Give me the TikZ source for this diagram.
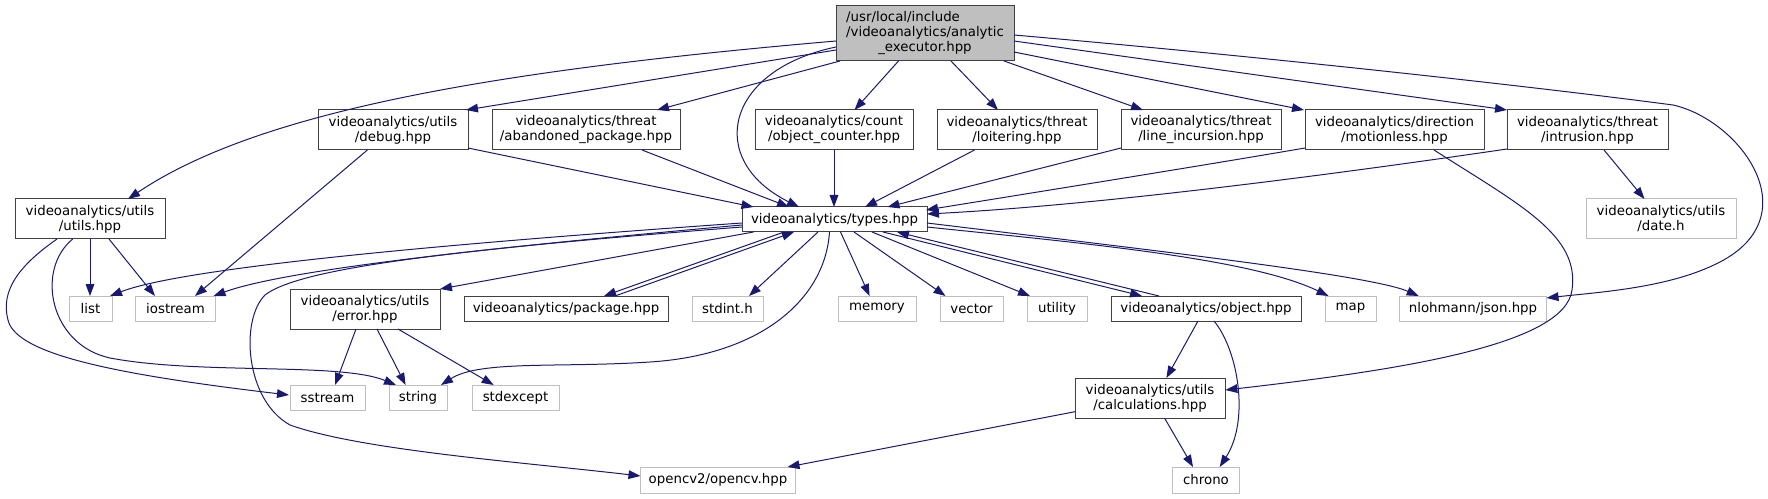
\documentclass[tikz,border=0pt]{standalone}
\usepackage{fontspec}
\setmainfont{DejaVu Sans}
\usetikzlibrary{arrows.meta,calc}
\definecolor{edgeblue}{RGB}{25,25,112}
\definecolor{docgray}{RGB}{64,64,64}
\definecolor{extgray}{RGB}{191,191,191}

\begin{document}
\begin{tikzpicture}[
  x=0.75pt, y=-0.75pt,
  box/.style={draw, inner sep=0pt, align=center, line width=0.75pt,
    font=\fontsize{10}{11.25}\selectfont, minimum height=18.75pt},
  two/.style={minimum height=30pt},
  doc/.style={box, draw=docgray},
  ext/.style={box, draw=extgray},
  root/.style={box, draw=docgray, fill=extgray, minimum height=41.25pt},
  boxw/.style={minimum width=#1*0.75pt},
  inc/.style={draw=edgeblue, line width=0.75pt, -{Triangle[length=9pt,width=6.5pt]}}
]
\useasboundingbox (0,0) rectangle (1768,499);

% the file itself
\node[root, boxw=178] (exec) at (925,33.5) {\begin{tabular}{@{}l@{}}/usr/local/include\\/videoanalytics/analytic\\\multicolumn{1}{@{}c@{}}{\_executor.hpp}\end{tabular}};

% direct includes
\node[doc, two, boxw=150] (debug) at (393,130) {videoanalytics/utils\\/debug.hpp};
\node[doc, two, boxw=188] (abandoned) at (586,130) {videoanalytics/threat\\/abandoned\_package.hpp};
\node[doc, two, boxw=158] (counter) at (834,130) {videoanalytics/count\\/object\_counter.hpp};
\node[doc, two, boxw=160] (loitering) at (1017,130) {videoanalytics/threat\\/loitering.hpp};
\node[doc, two, boxw=160] (incursion) at (1201,130) {videoanalytics/threat\\/line\_incursion.hpp};
\node[doc, two, boxw=179] (motionless) at (1394.5,130) {videoanalytics/direction\\/motionless.hpp};
\node[doc, two, boxw=161] (intrusion) at (1587.5,130) {videoanalytics/threat\\/intrusion.hpp};
\node[doc, two, boxw=150] (utils) at (90,219) {videoanalytics/utils\\/utils.hpp};
\node[doc, boxw=185] (types) at (834.5,219.5) {videoanalytics/types.hpp};
\node[ext, two, boxw=150] (date) at (1661,219) {videoanalytics/utils\\/date.h};

% third row
\node[ext, boxw=43] (list) at (90.5,308.5) {list};
\node[ext, boxw=80] (iostream) at (175.5,308.5) {iostream};
\node[doc, two, boxw=150] (error) at (365,309) {videoanalytics/utils\\/error.hpp};
\node[doc, boxw=204] (package) at (566,308.5) {videoanalytics/package.hpp};
\node[ext, boxw=71] (stdint) at (727.5,308.5) {stdint.h};
\node[ext, boxw=78] (memory) at (877,308.5) {memory};
\node[ext, boxw=63] (vector) at (971.5,308.5) {vector};
\node[ext, boxw=60] (utility) at (1057,308.5) {utility};
\node[doc, boxw=190] (object) at (1206,308.5) {videoanalytics/object.hpp};
\node[ext, boxw=51] (map) at (1350.5,308.5) {map};
\node[ext, boxw=147] (json) at (1473,308.5) {nlohmann/json.hpp};

% bottom rows
\node[ext, boxw=75] (sstream) at (327.5,397.5) {sstream};
\node[ext, boxw=58] (string) at (418,397.5) {string};
\node[ext, boxw=87] (stdexcept) at (515.5,397.5) {stdexcept};
\node[doc, two, boxw=150] (calc) at (1150,398) {videoanalytics/utils\\/calculations.hpp};
\node[ext, boxw=155, minimum height=19.5pt] (opencv) at (718,480) {opencv2/opencv.hpp};
\node[ext, boxw=67, minimum height=19.5pt] (chrono) at (1206,480) {chrono};

% edges from the file
\draw[inc] ($(exec)+(-89,7.5)$) .. controls (500,70) and (260,110) .. ($(utils)+(38,-20)$);
\draw[inc] ($(exec)+(-89,16.5)$) -- ($(debug)+(73,-20)$);
\draw[inc] ($(exec)+(-85,27.5)$) -- ($(abandoned)+(71,-20)$);
\draw[inc] ($(exec)+(-89,13.5)$) .. controls (725,70) and (705,160) .. ($(types)+(-35.5,-12.5)$);
\draw[inc] ($(exec)+(-26.5,27.5)$) -- ($(counter)+(20.5,-20)$);
\draw[inc] ($(exec)+(26,27.5)$) -- ($(loitering)+(-19,-20)$);
\draw[inc] ($(exec)+(79,27.5)$) -- ($(incursion)+(-58,-20)$);
\draw[inc] ($(exec)+(89,18.5)$) -- ($(motionless)+(-90.5,-20)$);
\draw[inc] ($(exec)+(89,7.5)$) -- ($(intrusion)+(-80.5,-20)$);
\draw[inc] ($(exec)+(89,1.5)$) .. controls (1300,60) and (1560,90) .. (1673,105)
  .. controls (1740,120) and (1810,215) .. (1720,262)
  .. controls (1670,288) and (1600,292) .. ($(json)+(73.5,-10.5)$);

% second row
\draw[inc] ($(debug)+(75,18)$) -- ($(types)+(-81,-12.5)$);
\draw[inc] ($(debug)+(-25.6,20)$) -- ($(iostream)+(19.5,-12.5)$);
\draw[inc] ($(abandoned)+(56,20)$) -- ($(types)+(-45.5,-12.5)$);
\draw[inc] ($(counter)+(0,20)$) -- ($(types)+(-0.5,-12.5)$);
\draw[inc] ($(loitering)+(-42.5,20)$) -- ($(types)+(30.5,-12.5)$);
\draw[inc] ($(incursion)+(-80,18)$) -- ($(types)+(53,-12.5)$);
\draw[inc] ($(motionless)+(-89.5,18)$) .. controls (1200,166) and (1050,190) .. ($(types)+(91.5,-9.5)$);
\draw[inc] ($(intrusion)+(-80.5,19)$) .. controls (1330,175) and (1100,205) .. ($(types)+(92.5,-5.5)$);
\draw[inc] ($(intrusion)+(16.5,20)$) -- ($(date)+(-16.5,-20)$);
\draw[inc] ($(motionless)+(39.5,20)$) .. controls (1520,205) and (1580,235) .. (1572,290)
  .. controls (1565,345) and (1400,370) .. ($(calc)+(75.4,-8)$);

% utils.hpp
\draw[inc] ($(utils)+(0,20)$) -- ($(list)+(-0.5,-12.5)$);
\draw[inc] ($(utils)+(19,20)$) -- ($(iostream)+(-20.5,-12.5)$);
\draw[inc] ($(utils)+(-33,20)$) .. controls (20,265) and (0,290) .. (8,320)
  .. controls (16,355) and (120,375) .. ($(sstream)+(-38.5,-2.5)$);
\draw[inc] ($(utils)+(-17.3,20)$) .. controls (35,270) and (50,345) .. (110,358)
  .. controls (200,375) and (340,362) .. ($(string)+(-22,-12.5)$);

% types.hpp
\draw[inc] ($(types)+(-92.5,3.5)$) .. controls (500,240) and (190,265) .. ($(list)+(19.5,-12.5)$);
\draw[inc] ($(types)+(-92.5,5.5)$) .. controls (520,245) and (290,268) .. ($(iostream)+(38,-12.5)$);
\draw[inc] ($(types)+(-92.5,7.5)$) .. controls (450,250) and (300,268) .. (265,295)
  .. controls (240,320) and (245,400) .. (290,425)
  .. controls (360,450) and (520,462) .. ($(opencv)+(-77.5,-4)$);
\draw[inc] ($(types)+(-81,12.5)$) -- ($(error)+(75,-20)$);
\draw[inc] ($(types)+(-50.5,12.5)$) -- ($(package)+(38,-12.5)$);
\draw[inc] ($(package)+(49,-12.5)$) -- ($(types)+(-40.5,12.5)$);
\draw[inc] ($(types)+(-16.5,12.5)$) -- ($(stdint)+(21.5,-12.5)$);
\draw[inc] ($(types)+(-5,12.5)$) .. controls (825,300) and (760,355) .. (650,362)
  .. controls (560,368) and (480,360) .. ($(string)+(23,-12.5)$);
\draw[inc] ($(types)+(6,12.5)$) -- ($(memory)+(-7.4,-12.5)$);
\draw[inc] ($(types)+(19.5,12.5)$) -- ($(vector)+(-26,-12.5)$);
\draw[inc] ($(types)+(37.5,12.5)$) -- ($(utility)+(-27,-12.5)$);
\draw[inc] ($(types)+(48.5,12.5)$) -- ($(object)+(-64,-12.5)$);
\draw[inc] ($(object)+(-47,-12.5)$) -- ($(types)+(62.5,12.5)$);
\draw[inc] ($(types)+(92.5,7.5)$) .. controls (1080,243) and (1250,258) .. ($(map)+(-22,-12.5)$);
\draw[inc] ($(types)+(92.5,3.5)$) .. controls (1150,250) and (1370,275) .. ($(json)+(-54.3,-12.5)$);

% error.hpp
\draw[inc] ($(error)+(-9,20)$) -- ($(sstream)+(7.5,-12.5)$);
\draw[inc] ($(error)+(12,20)$) -- ($(string)+(-12.4,-12.5)$);
\draw[inc] ($(error)+(33,20)$) -- ($(stdexcept)+(-21.8,-12.5)$);

% object.hpp and calculations.hpp
\draw[inc] ($(object)+(-8,12.5)$) -- ($(calc)+(16.4,-20)$);
\draw[inc] ($(object)+(8,12.5)$) .. controls (1238,350) and (1250,420) .. ($(chrono)+(13.7,-13)$);
\draw[inc] ($(calc)+(-75,13.7)$) -- ($(opencv)+(69.5,-13)$);
\draw[inc] ($(calc)+(14.5,20)$) -- ($(chrono)+(-13,-13)$);
\end{tikzpicture}
\end{document}
